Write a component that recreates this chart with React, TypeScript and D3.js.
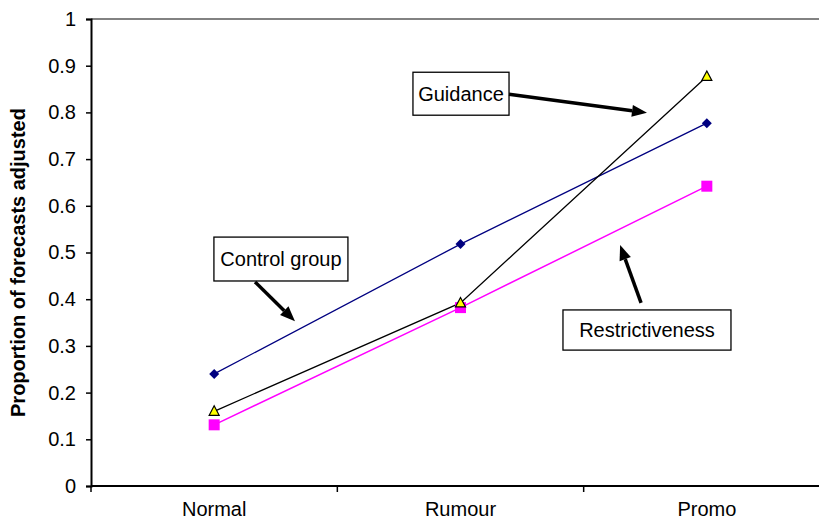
import React, { useRef, useEffect } from 'react'
import * as d3 from 'd3'

const categories = ['Normal', 'Rumour', 'Promo']
const controlGroup = [0.24, 0.518, 0.777]
const guidance = [0.16, 0.392, 0.877]
const restrictiveness = [0.131, 0.382, 0.642]
const yTicks = [0, 0.1, 0.2, 0.3, 0.4, 0.5, 0.6, 0.7, 0.8, 0.9, 1]

// annotation boxes + arrows, in data units (x: 0..3 across the category axis, y: proportion)
const notes = [
    { label: 'Control group', box: [0.499, 1.043, 0.533, 0.439], from: [0.666, 0.437], to: [0.828, 0.353] },
    { label: 'Guidance', box: [1.307, 1.697, 0.886, 0.794], from: [1.697, 0.839], to: [2.257, 0.799] },
    { label: 'Restrictiveness', box: [1.916, 2.598, 0.377, 0.291], from: [2.233, 0.392], to: [2.148, 0.516] },
]

const App = () => {
    const svgRef = useRef<SVGSVGElement>(null)

    useEffect(() => {
        const width = 819
        const left = 91
        const top = 19
        const bottom = 486
        const right = 830

        const svg = d3.select(svgRef.current)
        svg.selectAll('*').remove()

        const xScale = d3.scaleBand().domain(categories).range([left, right]).padding(0)
        const xLin = d3.scaleLinear().domain([0, 3]).range([left, right])
        const yScale = d3.scaleLinear().domain([0, 1]).range([bottom, top])
        const cx = (c: string) => (xScale(c) as number) + xScale.bandwidth() / 2

        const font = 'Liberation Sans, Arial, sans-serif'
        const fs = 20

        // top gridline at 1
        svg.append('line')
            .attr('x1', left).attr('x2', width)
            .attr('y1', yScale(1)).attr('y2', yScale(1))
            .attr('stroke', '#595959').attr('stroke-width', 1.5)

        // y axis
        const yAxis = d3.axisLeft(yScale).tickValues(yTicks).tickSize(5).tickPadding(10)
            .tickFormat(d => `${+d}`)
        const gy = svg.append('g').attr('transform', `translate(${left},0)`).call(yAxis)
        gy.select('.domain').attr('stroke', '#000').attr('stroke-width', 2)
        gy.selectAll('.tick line').attr('stroke', '#000').attr('stroke-width', 1.5)
        gy.selectAll('.tick text').attr('font-family', font).attr('font-size', fs).attr('fill', '#000')

        // x axis
        const xTickPos = [0, 1, 2, 3]
        const gx = svg.append('g')
        gx.append('line')
            .attr('x1', left).attr('x2', width)
            .attr('y1', bottom).attr('y2', bottom)
            .attr('stroke', '#000').attr('stroke-width', 2)
        gx.selectAll('.xt')
            .data(xTickPos)
            .join('line')
            .attr('x1', d => xLin(d)).attr('x2', d => xLin(d))
            .attr('y1', bottom).attr('y2', bottom + 6)
            .attr('stroke', '#000').attr('stroke-width', 1.5)
        gx.selectAll('.xl')
            .data(categories)
            .join('text')
            .attr('x', d => cx(d))
            .attr('y', bottom + 30)
            .attr('text-anchor', 'middle')
            .attr('font-family', font)
            .attr('font-size', fs)
            .text(d => d)

        // y axis title
        svg.append('text')
            .attr('transform', `translate(25,${(top + bottom) / 2 + 10}) rotate(-90)`)
            .attr('text-anchor', 'middle')
            .attr('font-family', font)
            .attr('font-weight', 'bold')
            .attr('font-size', 20)
            .text('Proportion of forecasts adjusted')

        const seriesLine = d3.line<number>()
            .x((v, i) => cx(categories[i]))
            .y(v => yScale(v))

        svg.append('path').datum(controlGroup).attr('d', seriesLine)
            .attr('fill', 'none').attr('stroke', '#000080').attr('stroke-width', 1.3)
        svg.append('path').datum(guidance).attr('d', seriesLine)
            .attr('fill', 'none').attr('stroke', '#000').attr('stroke-width', 1.3)
        svg.append('path').datum(restrictiveness).attr('d', seriesLine)
            .attr('fill', 'none').attr('stroke', '#ff00ff').attr('stroke-width', 1.5)

        // markers
        svg.selectAll('.sq')
            .data(restrictiveness)
            .join('rect')
            .attr('x', (v, i) => cx(categories[i]) - 5.5)
            .attr('y', v => yScale(v) - 5.5)
            .attr('width', 11).attr('height', 11)
            .attr('fill', '#ff00ff')

        svg.selectAll('.tri')
            .data(guidance)
            .join('path')
            .attr('d', (v, i) => {
                const x = cx(categories[i]), y = yScale(v)
                return `M${x},${y - 5.5}L${x + 5},${y + 4}L${x - 5},${y + 4}Z`
            })
            .attr('fill', '#ffff00').attr('stroke', '#000').attr('stroke-width', 1.2)

        svg.selectAll('.dia')
            .data(controlGroup)
            .join('path')
            .attr('d', (v, i) => {
                const x = cx(categories[i]), y = yScale(v)
                return `M${x},${y - 5}L${x + 5},${y}L${x},${y + 5}L${x - 5},${y}Z`
            })
            .attr('fill', '#000080')

        // annotations
        notes.forEach(n => {
            const [x0, x1, y0, y1] = n.box
            svg.append('rect')
                .attr('x', xLin(x0)).attr('y', yScale(y0))
                .attr('width', xLin(x1) - xLin(x0))
                .attr('height', yScale(y1) - yScale(y0))
                .attr('fill', '#fff').attr('stroke', '#000').attr('stroke-width', 1.3)
            svg.append('text')
                .attr('x', (xLin(x0) + xLin(x1)) / 2)
                .attr('y', (yScale(y0) + yScale(y1)) / 2 + 7)
                .attr('text-anchor', 'middle')
                .attr('font-family', font)
                .attr('font-size', fs)
                .text(n.label)

            const fx = xLin(n.from[0]), fy = yScale(n.from[1])
            const tx = xLin(n.to[0]), ty = yScale(n.to[1])
            const ang = Math.atan2(ty - fy, tx - fx)
            const headLen = 15
            const headW = 6
            const bx = tx - headLen * Math.cos(ang), by = ty - headLen * Math.sin(ang)
            svg.append('line')
                .attr('x1', fx).attr('y1', fy).attr('x2', bx).attr('y2', by)
                .attr('stroke', '#000').attr('stroke-width', 3.5)
            const px = -Math.sin(ang), py = Math.cos(ang)
            svg.append('path')
                .attr('d', `M${tx},${ty}L${bx + px * headW},${by + py * headW}L${bx - px * headW},${by - py * headW}Z`)
                .attr('fill', '#000')
        })
    }, [])

    return (
        <svg ref={svgRef} width={819} height={521}
            style={{ position: 'absolute', left: 0, top: 0, background: '#fff' }} />
    )
}

export default App
